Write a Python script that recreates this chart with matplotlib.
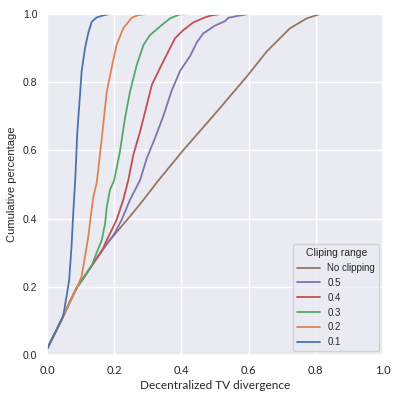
import matplotlib
matplotlib.use("Agg")
import matplotlib.pyplot as plt
import seaborn as sns

sns.set_theme(style="darkgrid")
plt.rcParams['font.family'] = ['Liberation Sans', 'DejaVu Sans']

# cumulative curves (x = divergence, y = cumulative share)
x_none = [0, 0.024, 0.048, 0.07, 0.09, 0.108, 0.133, 0.163, 0.183, 0.2, 0.25, 0.287,
          0.33, 0.405, 0.505, 0.594, 0.654, 0.723, 0.773, 0.8125]
y_none = [0.017, 0.065, 0.113, 0.16, 0.2, 0.225, 0.262, 0.305, 0.332, 0.352, 0.41, 0.455,
          0.51, 0.60, 0.713, 0.816, 0.89, 0.958, 0.987, 1.0]

x_05 = [0, 0.024, 0.048, 0.07, 0.09, 0.108, 0.133, 0.163, 0.183, 0.2, 0.222, 0.247,
        0.277, 0.297, 0.321, 0.346, 0.371, 0.396, 0.426, 0.446, 0.465, 0.5, 0.53,
        0.54, 0.565, 0.6]
y_05 = [0.017, 0.065, 0.113, 0.16, 0.2, 0.225, 0.262, 0.305, 0.332, 0.355, 0.396, 0.455,
        0.513, 0.577, 0.635, 0.70, 0.775, 0.833, 0.877, 0.917, 0.943, 0.966, 0.979,
        0.989, 0.994, 1.0]

x_04 = [0, 0.024, 0.048, 0.07, 0.09, 0.108, 0.133, 0.163, 0.178, 0.207, 0.227, 0.242,
        0.257, 0.277, 0.297, 0.312, 0.336, 0.361, 0.381, 0.406, 0.435, 0.47, 0.49, 0.517]
y_04 = [0.017, 0.065, 0.113, 0.16, 0.2, 0.225, 0.262, 0.305, 0.337, 0.396, 0.455, 0.513,
        0.587, 0.655, 0.733, 0.792, 0.841, 0.89, 0.929, 0.953, 0.975, 0.99, 0.996, 1.0]

x_03 = [0, 0.024, 0.048, 0.07, 0.09, 0.108, 0.133, 0.143, 0.163, 0.173, 0.178, 0.1875,
        0.2, 0.217, 0.232, 0.247, 0.267, 0.287, 0.3065, 0.336, 0.366, 0.396, 0.418]
y_03 = [0.017, 0.065, 0.113, 0.16, 0.2, 0.225, 0.262, 0.288, 0.337, 0.386, 0.435, 0.484,
        0.513, 0.596, 0.694, 0.772, 0.85, 0.909, 0.938, 0.963, 0.987, 0.999, 1.0]

x_02 = [0, 0.024, 0.048, 0.07, 0.09, 0.103, 0.113, 0.123, 0.13, 0.138, 0.148, 0.163,
        0.178, 0.193, 0.207, 0.227, 0.252, 0.272, 0.295]
y_02 = [0.017, 0.065, 0.113, 0.16, 0.2, 0.23, 0.288, 0.347, 0.405, 0.464, 0.505, 0.635,
        0.773, 0.845, 0.909, 0.958, 0.989, 0.997, 1.0]

x_01 = [0, 0.024, 0.048, 0.058, 0.066, 0.073, 0.078, 0.084, 0.09, 0.098, 0.103, 0.108,
        0.113, 0.123, 0.133, 0.148, 0.168, 0.187]
y_01 = [0.017, 0.065, 0.113, 0.171, 0.22, 0.318, 0.415, 0.513, 0.65, 0.76, 0.831, 0.865,
        0.899, 0.945, 0.977, 0.99, 0.996, 1.0]

labels = ["No clipping", "0.5", "0.4", "0.3", "0.2", "0.1"]
xs = [x_none, x_05, x_04, x_03, x_02, x_01]
ys = [y_none, y_05, y_04, y_03, y_02, y_01]

pal = sns.color_palette("deep")
colors = [pal[5], pal[4], pal[3], pal[2], pal[1], pal[0]]

fig = plt.figure(figsize=(3.99, 4.01), dpi=100)
ax = fig.add_axes([47 / 399, 46 / 401, 336 / 399, 341 / 401])

for x, y, lab, c in zip(xs, ys, labels, colors):
    ax.plot(x, y, color=c, lw=1.3, label=lab)

ax.set_xlim(0, 1)
ax.set_ylim(0, 1)
ax.set_xticks([0, 0.2, 0.4, 0.6, 0.8, 1.0])
ax.set_yticks([0, 0.2, 0.4, 0.6, 0.8, 1.0])
ax.tick_params(axis="y", labelsize=7.5, pad=7, length=0)
ax.tick_params(axis="x", labelsize=8, pad=7, length=0)
for t in ax.get_xticklabels():
    t.set_fontfamily("Lato")
for t in ax.get_yticklabels():
    t.set_fontfamily("Liberation Sans")
ax.set_xlabel("Decentralized TV divergence", fontsize=8.5, family="Lato", labelpad=3)
ax.set_ylabel("Cumulative percentage", fontsize=8, family="Liberation Sans", labelpad=4)

leg = ax.legend(title="Cliping range", loc="lower right", fontsize=7,
                title_fontsize=7.5, handlelength=2.3, borderaxespad=0.4)

fig.savefig("out.png", dpi=100)
